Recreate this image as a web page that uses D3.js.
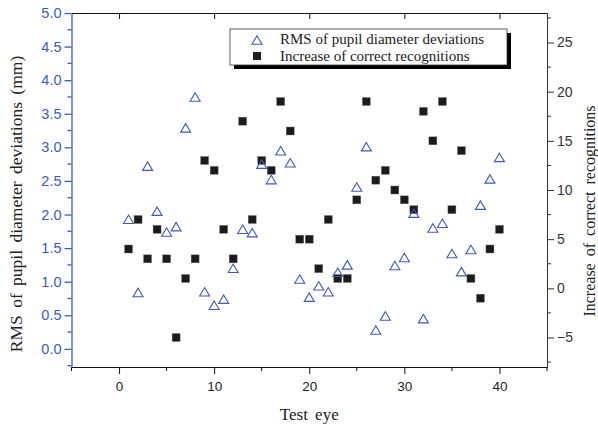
<!DOCTYPE html>
<html>
<head>
<meta charset="utf-8">
<script src="https://cdn.jsdelivr.net/npm/d3@7"></script>
<style>
  body { margin: 0; background: #fff; }
</style>
</head>
<body>
<svg></svg>
<script>
'use strict';

const svgWidth = 598;
const svgHeight = 427;

const margin = { top: 13, right: 51, bottom: 60, left: 71.5 };
const width = svgWidth - margin.left - margin.right;
const height = svgHeight - margin.top - margin.bottom;

// data
const eyes = d3.range(1, 41);
const rmsDev = [1.93, 0.84, 2.72, 2.05, 1.74, 1.82, 3.29, 3.75, 0.85, 0.65,
  0.74, 1.20, 1.78, 1.73, 2.75, 2.52, 2.95, 2.77, 1.04, 0.77,
  0.94, 0.85, 1.14, 1.25, 2.41, 3.01, 0.28, 0.49, 1.24, 1.36,
  2.02, 0.45, 1.80, 1.87, 1.42, 1.15, 1.48, 2.14, 2.53, 2.85];
const incCorrect = [4, 7, 3, 6, 3, -5, 1, 3, 13, 12,
  6, 3, 17, 7, 13, 12, 19, 16, 5, 5,
  2, 7, 1, 1, 9, 19, 11, 12, 10, 9,
  8, 18, 15, 19, 8, 14, 1, -1, 4, 6];

const xTicks = [0, 10, 20, 30, 40];
const yLeftTicks = d3.range(0, 5.01, 0.5);
const yRightTicks = [-5, 0, 5, 10, 15, 20, 25];

const blue = '#3d5bb8';
const serif = '"Liberation Serif", "Times New Roman", serif';
const sans = '"Liberation Sans", Arial, sans-serif';

const svg = d3.select('svg')
  .attr('width', svgWidth)
  .attr('height', svgHeight);

const svgG = svg.append('g')
  .attr('transform', `translate(${margin.left}, ${margin.top})`);

const x = d3.scaleLinear().domain([-5, 45]).range([0, width]);
const yL = d3.scaleLinear().domain([-0.27, 5]).range([height, 0]);
const yR = d3.scaleLinear().domain([-8, 28]).range([height, 0]);

// minor ticks
const xMinor = d3.range(-5, 46, 5).filter(v => v % 10 !== 0);
const yLMinor = d3.range(-0.25, 5, 0.5);
const yRMinor = d3.range(-7.5, 28, 5);

// bottom axis
const xAxisG = svgG.append('g')
  .attr('transform', `translate(0, ${height})`)
  .call(d3.axisBottom(x).tickValues(xTicks).tickSize(7).tickSizeOuter(0));
xAxisG.append('g').selectAll('line')
  .data(xMinor).join('line')
  .attr('x1', d => x(d)).attr('x2', d => x(d))
  .attr('y1', 0).attr('y2', 4)
  .attr('stroke', '#000');

// top frame with inward ticks
const topG = svgG.append('g')
  .call(d3.axisTop(x).tickValues(xTicks).tickSize(-6).tickSizeOuter(0).tickFormat(''));

// left axis
const yLG = svgG.append('g')
  .call(d3.axisLeft(yL).tickValues(yLeftTicks).tickSize(7).tickSizeOuter(0)
    .tickFormat(d3.format('.1f')));
yLG.append('g').selectAll('line')
  .data(yLMinor).join('line')
  .attr('x1', 0).attr('x2', -4)
  .attr('y1', d => yL(d)).attr('y2', d => yL(d))
  .attr('stroke', blue);
yLG.selectAll('path, line').attr('stroke', blue).attr('stroke-width', 1.3);

// right axis
const yRG = svgG.append('g')
  .attr('transform', `translate(${width}, 0)`)
  .call(d3.axisRight(yR).tickValues(yRightTicks).tickSize(7).tickSizeOuter(0));
yRG.append('g').selectAll('line')
  .data(yRMinor).join('line')
  .attr('x1', 0).attr('x2', 4)
  .attr('y1', d => yR(d)).attr('y2', d => yR(d))
  .attr('stroke', '#333');
yRG.selectAll('path, line').attr('stroke', '#333');

svgG.selectAll('.tick text').attr('font-family', sans);
yLG.selectAll('.tick text').attr('fill', blue).attr('font-size', 14.5);
yRG.selectAll('.tick text').attr('fill', '#333').attr('font-size', 14);
xAxisG.selectAll('.tick text').attr('fill', '#222').attr('font-size', 13.5)
  .attr('dy', '1.05em');
xAxisG.selectAll('path, line').attr('stroke', '#111');
topG.selectAll('path, line').attr('stroke', '#111');

// squares: increase of correct recognitions
const sq = 8;
svgG.append('g').selectAll('rect')
  .data(eyes).join('rect')
  .attr('x', d => x(d) - sq / 2)
  .attr('y', (d, i) => yR(incCorrect[i]) - sq / 2)
  .attr('width', sq).attr('height', sq)
  .attr('fill', '#1b1b1b')
  .attr('stroke', '#777')
  .attr('stroke-width', 0.4);

// open triangles: RMS of pupil diameter deviations
const tri = (cx, cy) => {
  const w = 10, h = 8.5;
  return `M${cx},${cy - h / 2}L${cx + w / 2},${cy + h / 2}L${cx - w / 2},${cy + h / 2}Z`;
};
svgG.append('g').selectAll('path')
  .data(eyes).join('path')
  .attr('d', (d, i) => tri(x(d), yL(rmsDev[i])))
  .attr('fill', 'none')
  .attr('stroke', blue)
  .attr('stroke-width', 1.1);

// axis titles
svg.append('text')
  .attr('transform', `translate(22, ${margin.top + 191}) rotate(-90)`)
  .attr('text-anchor', 'middle')
  .attr('font-family', serif)
  .attr('font-size', 17.5)
  .attr('word-spacing', 3)
  .attr('fill', '#222')
  .text('RMS of pupil diameter deviations (mm)');

svg.append('text')
  .attr('transform', `translate(595, ${margin.top + 198}) rotate(-90)`)
  .attr('text-anchor', 'middle')
  .attr('font-family', serif)
  .attr('font-size', 16)
  .attr('word-spacing', 3)
  .attr('fill', '#222')
  .text('Increase of correct recognitions');

svg.append('text')
  .attr('x', margin.left + x(20))
  .attr('y', 420)
  .attr('text-anchor', 'middle')
  .attr('font-family', serif)
  .attr('font-size', 17)
  .attr('word-spacing', 3)
  .attr('fill', '#222')
  .text('Test eye');

// legend
const leg = svg.append('g').attr('transform', 'translate(230, 29)');
leg.append('rect')
  .attr('x', 4).attr('y', 4).attr('width', 277).attr('height', 36)
  .attr('fill', '#000');
leg.append('rect')
  .attr('x', 0).attr('y', 0).attr('width', 277).attr('height', 36)
  .attr('fill', '#fff').attr('stroke', '#333').attr('stroke-width', 0.8);
leg.append('path')
  .attr('d', tri(27, 11))
  .attr('fill', 'none').attr('stroke', blue).attr('stroke-width', 1.1);
leg.append('rect')
  .attr('x', 27 - sq / 2).attr('y', 27 - sq / 2)
  .attr('width', sq).attr('height', sq)
  .attr('fill', '#1b1b1b');
const legTexts = ['RMS of pupil diameter deviations', 'Increase of correct recognitions'];
leg.selectAll('text.lt')
  .data(legTexts).join('text')
  .attr('class', 'lt')
  .attr('x', 50)
  .attr('y', (d, i) => 15 + i * 17)
  .attr('font-family', serif)
  .attr('font-size', 15)
  .attr('fill', '#222')
  .text(d => d);
</script>
</body>
</html>
